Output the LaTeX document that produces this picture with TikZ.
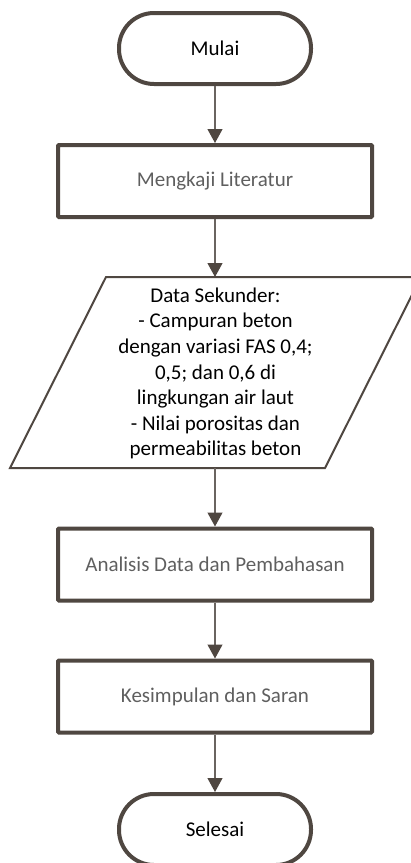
\documentclass[tikz,border=0pt]{standalone}
\usepackage{fontspec}
\setmainfont{Carlito}
\usetikzlibrary{arrows.meta}
\definecolor{bc}{HTML}{4F4741}
\definecolor{lc}{HTML}{6A6460}
\definecolor{tg}{HTML}{5F5F5F}
\begin{document}
\begin{tikzpicture}[x=1pt,y=1pt,
  term/.style={draw=bc, line width=4pt, rectangle, rounded corners=35pt, minimum width=192pt, minimum height=71pt, inner sep=0pt, font=\fontsize{21}{25.6}\selectfont, text=black},
  proc/.style={draw=bc, line width=4pt, rectangle, rounded corners=1pt, minimum width=314pt, minimum height=72pt, inner sep=0pt, font=\fontsize{21}{25.6}\selectfont, text=tg},
  datatext/.style={align=center, inner sep=0pt, font=\fontsize{21}{25.6}\selectfont, text=black},
  arr/.style={draw=lc, line width=1.2pt, -{Triangle[width=15pt,length=14pt,color=bc]}}
]
\useasboundingbox (0,0) rectangle (411,-863);
\node[term] (mulai) at (215,-48.5) {Mulai};
\node[proc] (kaji) at (215,-181) {Mengkaji Literatur};
\coordinate (dtop) at (215,-277);
\coordinate (dbot) at (215,-468);
\draw[draw=bc, line width=2pt, line join=miter] (106,-277) -- (421,-277) -- (325,-468) -- (10,-468) -- cycle;
\node[datatext] (data) at (215.5,-373.5) {Data Sekunder:\\- Campuran beton\\dengan variasi FAS 0,4;\\0,5; dan 0,6 di\\lingkungan air laut\\- Nilai porositas dan\\permeabilitas beton};
\node[proc] (anal) at (215,-564.5) {Analisis Data dan Pembahasan};
\node[proc] (kes) at (215,-696.5) {Kesimpulan dan Saran};
\node[term] (sel) at (215,-829.5) {Selesai};
\draw[arr] (mulai.south) -- (kaji.north);
\draw[arr] (kaji.south) -- (dtop);
\draw[arr] (dbot) -- (anal.north);
\draw[arr] (anal.south) -- (kes.north);
\draw[arr] (kes.south) -- (sel.north);
\end{tikzpicture}
\end{document}
